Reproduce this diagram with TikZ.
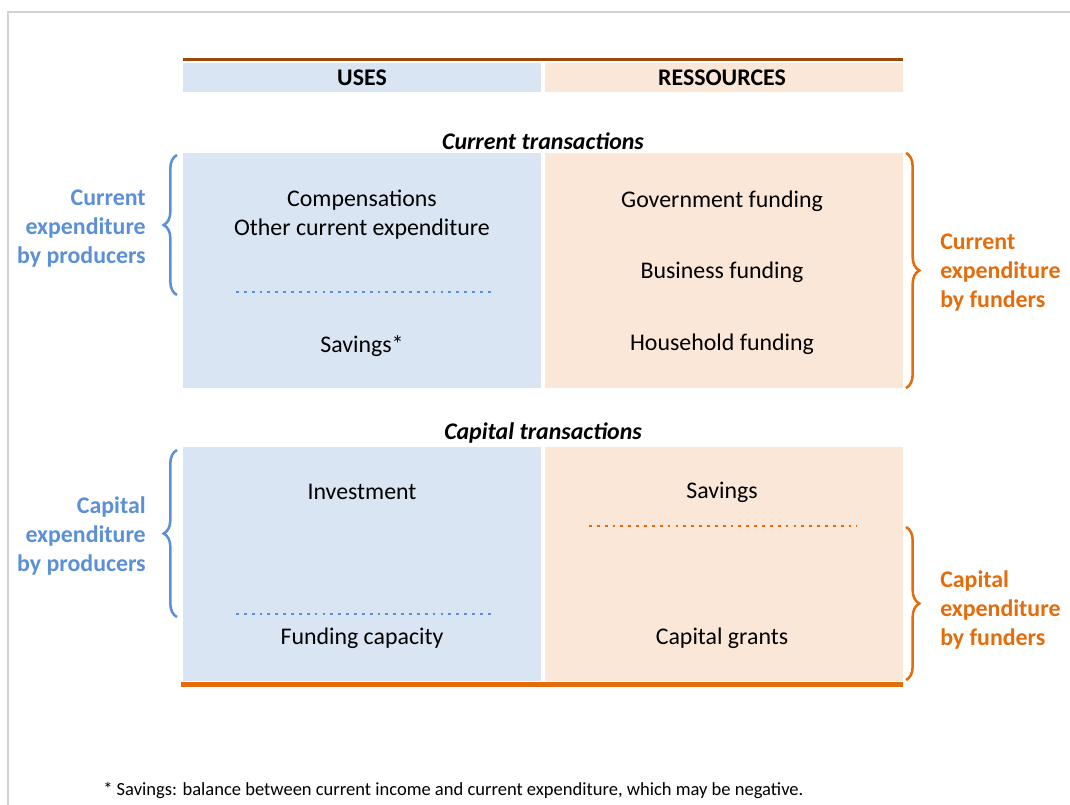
\documentclass[tikz,border=0pt]{standalone}
\usepackage{fontspec}
\setmainfont{Carlito}
\usepackage{xcolor}
\definecolor{usesBlue}{RGB}{218, 229, 243}
\definecolor{resPeach}{RGB}{251, 231, 216}
\definecolor{labelBlue}{RGB}{91, 143, 214}
\definecolor{labelOrange}{RGB}{228, 108, 10}
\definecolor{topBrown}{RGB}{158, 72, 14}
\definecolor{frameGray}{RGB}{210, 210, 210}
\usepackage{tikz}
\usetikzlibrary{positioning,shapes,backgrounds,decorations.pathreplacing}

\tikzset{
  txt/.style={inner sep=0pt, font=\fontsize{17.9}{21.75}\selectfont},
  head/.style={txt, font=\fontsize{17.9}{21.75}\selectfont\bfseries},
  section/.style={txt, font=\fontsize{17.9}{21.75}\selectfont\bfseries\itshape},
  side/.style={txt, font=\fontsize{17.9}{21.75}\selectfont\bfseries},
  bracket/.style={decorate, decoration={brace, amplitude=10pt}, line width=1.9pt},
  dots/.style={line width=2.1pt, dash pattern=on 2.1pt off 3.8pt}
}

\begin{document}
\begin{tikzpicture}[x=0.75pt, y=-0.75pt]
\useasboundingbox (0,0) rectangle (1070,805);
% frame
\draw[frameGray, line width=0.8pt] (8,805) -- (8,12) -- (1070,12);

% boxes
\fill[usesBlue] (183,63) rectangle (541,92);
\fill[resPeach] (545,63) rectangle (903,92);
\fill[usesBlue] (183,153) rectangle (541,388);
\fill[resPeach] (545,153) rectangle (903,388);
\fill[usesBlue] (183,447) rectangle (541,681);
\fill[resPeach] (545,447) rectangle (903,681);
\draw[topBrown, line width=2.6pt] (183,59.5) -- (903,59.5);
\draw[labelOrange, line width=3.2pt] (181,684.5) -- (903,684.5);

% header
\node[head] (uses) at (362,78) {USES};
\node[head] (res) at (722,78) {RESSOURCES};

% current transactions
\node[section] (curTitle) at (543,141) {Current transactions};
\node[txt] (comp) at (362,200) {Compensations};
\node[txt] (otherExp) at (362,229) {Other current expenditure};
\node[txt] (curSav) at (362,346) {Savings*};
\node[txt] (govFund) at (722,201) {Government funding};
\node[txt] (busFund) at (722,272) {Business funding};
\node[txt] (houseFund) at (722,344) {Household funding};
\draw[labelBlue, dots] (236,292) -- (492,292);

% capital transactions
\node[section] (capTitle) at (543,433) {Capital transactions};
\node[txt] (invest) at (362,492) {Investment};
\node[txt] (fundCap) at (362,638) {Funding capacity};
\node[txt] (capSav) at (722,492) {Savings};
\node[txt] (capGrant) at (722,638) {Capital grants};
\draw[labelBlue, dots] (236,614) -- (492,614);
\draw[labelOrange, dots] (589,526) -- (857,526);

% braces
\draw[labelBlue, bracket] (177,295) -- (177,155);
\draw[labelBlue, bracket] (177,617) -- (177,450);
\draw[labelOrange, bracket] (906,153) -- (906,388);
\draw[labelOrange, bracket] (906,527) -- (906,680);

% side labels
\node[side, text=labelBlue, anchor=east, align=right] (curProd) at (146,229) {Current\\expenditure\\by producers};
\node[side, text=labelBlue, anchor=east, align=right] (capProd) at (146,536) {Capital\\expenditure\\by producers};
\node[side, text=labelOrange, anchor=west, align=left] (curFund) at (940,273) {Current\\expenditure\\by funders};
\node[side, text=labelOrange, anchor=west, align=left] (capFund) at (940,610) {Capital\\expenditure\\by funders};

% footnote
\node[inner sep=0pt, anchor=west, font=\fontsize{13.9}{16}\selectfont] (note) at (103,791) {* Savings: balance between current income and current expenditure, which may be negative.};
\end{tikzpicture}
\end{document}
